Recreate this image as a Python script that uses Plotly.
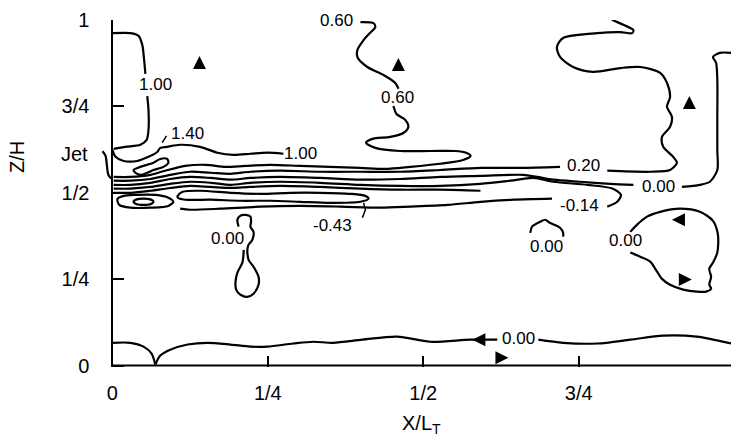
import plotly.graph_objects as go

# ---- axis ticks -------------------------------------------------------------
x_tick_vals = [0, 0.25, 0.5, 0.75]
x_tick_text = ["0", "1/4", "1/2", "3/4"]
y_tick_vals = [0, 0.25, 0.5, 0.75, 1.0]
y_tick_text = ["0", "1/4", "1/2", "3/4", "1"]
jet_z = 0.613

# ---- contour polylines (X/L_T, Z/H) ----------------------------------------
# 1.00 contour along the wall above the jet (broken around its label)
wall100_a_x = [0.000, 0.029, 0.042, 0.048, 0.051, 0.053]
wall100_a_y = [0.962, 0.962, 0.954, 0.928, 0.884, 0.844]
wall100_b_x = [0.056, 0.058, 0.058, 0.055, 0.045, 0.021, 0.002]
wall100_b_y = [0.780, 0.740, 0.682, 0.653, 0.639, 0.633, 0.627]

# small bend just outside the wall at jet height
inlet_x = [-0.016, -0.011, -0.009, -0.007, -0.004, 0.000]
inlet_y = [0.620, 0.607, 0.581, 0.555, 0.545, 0.540]

# 1.00 contour along the upper edge of the jet
jet100_x = [0.000, 0.005, 0.018, 0.040, 0.058, 0.072, 0.077, 0.088, 0.109, 0.141,
            0.169, 0.195, 0.222, 0.249, 0.275]
jet100_y = [0.624, 0.604, 0.592, 0.592, 0.604, 0.618, 0.630, 0.633, 0.639, 0.633,
            0.616, 0.610, 0.613, 0.616, 0.613]

# 1.40 closed contour in the jet core
core140_x = [0.034, 0.045, 0.066, 0.077, 0.088, 0.090, 0.082, 0.066, 0.056, 0.045, 0.037, 0.034]
core140_y = [0.566, 0.575, 0.587, 0.598, 0.598, 0.587, 0.575, 0.566, 0.558, 0.552, 0.558, 0.566]

# 0.60 contour: from the top down to a loop along the jet, then back to the inlet
c060_a_x = [0.399, 0.420, 0.423, 0.413, 0.404, 0.394, 0.394, 0.410, 0.436, 0.455, 0.460]
c060_a_y = [0.994, 0.991, 0.980, 0.960, 0.942, 0.913, 0.893, 0.864, 0.841, 0.818, 0.801]
c060_b_x = [0.452, 0.457, 0.471, 0.476, 0.468, 0.447, 0.418, 0.408, 0.423, 0.463, 0.511,
            0.551, 0.569, 0.576, 0.564, 0.527, 0.479, 0.439, 0.399, 0.350, 0.302, 0.254,
            0.214, 0.182, 0.150, 0.117, 0.085, 0.061, 0.029, 0.002]
c060_b_y = [0.751, 0.728, 0.711, 0.691, 0.673, 0.662, 0.656, 0.645, 0.630, 0.621, 0.621,
            0.621, 0.616, 0.607, 0.595, 0.584, 0.575, 0.569, 0.572, 0.575, 0.578, 0.581,
            0.578, 0.575, 0.581, 0.578, 0.564, 0.552, 0.546, 0.546]

# 0.20 contour: along the jet, then up the right side to the top
c020_a_x = [0.002, 0.029, 0.061, 0.093, 0.125, 0.158, 0.190, 0.222, 0.270, 0.334, 0.399,
            0.463, 0.527, 0.592, 0.656, 0.720]
c020_a_y = [0.535, 0.535, 0.540, 0.552, 0.561, 0.558, 0.555, 0.561, 0.564, 0.561, 0.561,
            0.561, 0.566, 0.572, 0.572, 0.575]
c020_b_x = [0.796, 0.865, 0.897, 0.908, 0.902, 0.886, 0.884, 0.897, 0.900, 0.892, 0.897,
            0.892, 0.881, 0.849, 0.817, 0.773, 0.741, 0.720, 0.715, 0.725, 0.780, 0.817,
            0.836, 0.838, 0.822, 0.805, 0.801]
c020_b_y = [0.564, 0.561, 0.566, 0.587, 0.604, 0.633, 0.662, 0.691, 0.720, 0.749, 0.777,
            0.818, 0.847, 0.864, 0.861, 0.850, 0.864, 0.893, 0.922, 0.948, 0.962, 0.965,
            0.962, 0.971, 0.986, 1.000, 1.006]

# 0.00 contour along the jet, rising along the far right
c000_a_x = [0.002, 0.029, 0.061, 0.093, 0.125, 0.158, 0.190, 0.222, 0.270, 0.334, 0.399,
            0.463, 0.527, 0.592, 0.661, 0.683, 0.709, 0.752, 0.801, 0.838]
c000_a_y = [0.523, 0.523, 0.529, 0.540, 0.546, 0.543, 0.538, 0.543, 0.546, 0.543, 0.538,
            0.540, 0.546, 0.549, 0.552, 0.546, 0.538, 0.532, 0.526, 0.523]
c000_b_x = [0.916, 0.945, 0.961, 0.973, 0.973, 0.973, 0.973, 0.971, 0.966, 0.977, 0.995]
c000_b_y = [0.517, 0.523, 0.532, 0.566, 0.624, 0.720, 0.827, 0.876, 0.893, 0.905, 0.905]

# -0.14 contour: upper branch out to the tip, lower branch back toward the inlet
cm014_a_x = [0.002, 0.029, 0.061, 0.093, 0.125, 0.158, 0.190, 0.222, 0.270, 0.334, 0.399,
             0.463, 0.527, 0.592, 0.640, 0.677, 0.709, 0.764, 0.805, 0.818, 0.812, 0.796]
cm014_a_y = [0.512, 0.512, 0.517, 0.526, 0.532, 0.529, 0.523, 0.529, 0.532, 0.529, 0.523,
             0.520, 0.520, 0.526, 0.535, 0.543, 0.532, 0.523, 0.512, 0.494, 0.474, 0.460]
cm014_b_x = [0.707, 0.645, 0.592, 0.539, 0.479, 0.431, 0.367, 0.302, 0.238, 0.174, 0.125, 0.109]
cm014_b_y = [0.483, 0.480, 0.474, 0.465, 0.460, 0.457, 0.460, 0.462, 0.460, 0.454, 0.451, 0.454]

# intermediate contour between -0.14 and -0.43
cm029_x = [0.002, 0.029, 0.061, 0.093, 0.125, 0.158, 0.190, 0.222, 0.270, 0.334, 0.399,
           0.463, 0.527, 0.592]
cm029_y = [0.500, 0.500, 0.506, 0.514, 0.520, 0.517, 0.514, 0.517, 0.520, 0.517, 0.512,
           0.509, 0.509, 0.506]

# -0.43 closed contour below the jet axis
cm043_x = [0.105, 0.113, 0.141, 0.190, 0.238, 0.286, 0.334, 0.383, 0.407, 0.412, 0.399,
           0.350, 0.302, 0.254, 0.206, 0.158, 0.117, 0.105, 0.105]
cm043_y = [0.491, 0.503, 0.506, 0.500, 0.497, 0.500, 0.500, 0.497, 0.491, 0.483, 0.474,
           0.471, 0.474, 0.477, 0.477, 0.480, 0.480, 0.486, 0.491]

# closed contours just under the inlet
low_outer_x = [0.008, 0.018, 0.037, 0.069, 0.090, 0.098, 0.090, 0.061, 0.029, 0.011, 0.008]
low_outer_y = [0.482, 0.491, 0.494, 0.494, 0.486, 0.474, 0.462, 0.457, 0.457, 0.465, 0.482]
low_inner_x = [0.034, 0.039, 0.050, 0.061, 0.066, 0.061, 0.050, 0.039, 0.034]
low_inner_y = [0.474, 0.481, 0.483, 0.481, 0.474, 0.467, 0.465, 0.467, 0.474]

# 0.00 contour: narrow-necked region below the jet
neck000_x = [0.203, 0.201, 0.206, 0.214, 0.222, 0.223, 0.222, 0.227, 0.225, 0.219, 0.217,
             0.217, 0.219, 0.227, 0.235, 0.235, 0.227, 0.217, 0.206, 0.199, 0.198, 0.201,
             0.209, 0.211, 0.211]
neck000_y = [0.402, 0.422, 0.434, 0.436, 0.431, 0.416, 0.402, 0.387, 0.364, 0.350, 0.335,
             0.327, 0.306, 0.286, 0.257, 0.234, 0.208, 0.199, 0.205, 0.220, 0.243, 0.269,
             0.298, 0.327, 0.335]

# 0.00 contour: small arch under the jet end
arch000_x = [0.672, 0.675, 0.688, 0.696, 0.704, 0.720, 0.725, 0.725]
arch000_y = [0.384, 0.402, 0.416, 0.422, 0.413, 0.399, 0.384, 0.373]

# 0.00 contour: recirculation cell on the right
cell000_x = [0.833, 0.844, 0.860, 0.881, 0.913, 0.945, 0.966, 0.974, 0.973, 0.966, 0.960,
             0.963, 0.960, 0.963, 0.955, 0.940, 0.918, 0.897, 0.884, 0.875, 0.865, 0.849, 0.833]
cell000_y = [0.387, 0.408, 0.431, 0.445, 0.454, 0.445, 0.419, 0.379, 0.327, 0.298, 0.280,
             0.257, 0.234, 0.223, 0.214, 0.214, 0.220, 0.234, 0.251, 0.275, 0.301, 0.315, 0.327]

# 0.00 contour near the floor
floor_a_x = [0.000, 0.029, 0.050, 0.063, 0.069]
floor_a_y = [0.066, 0.066, 0.055, 0.035, 0.003]
floor_b_x = [0.069, 0.077, 0.093, 0.121, 0.153, 0.190, 0.222, 0.249, 0.291, 0.323, 0.355,
             0.402, 0.458, 0.511, 0.576, 0.619]
floor_b_y = [0.003, 0.029, 0.046, 0.061, 0.066, 0.061, 0.055, 0.055, 0.064, 0.069, 0.066,
             0.075, 0.084, 0.069, 0.075, 0.075]
floor_c_x = [0.685, 0.725, 0.780, 0.833, 0.886, 0.940, 0.995]
floor_c_y = [0.075, 0.066, 0.064, 0.075, 0.087, 0.084, 0.064]

# label leaders
lead140_x = [0.080, 0.087]
lead140_y = [0.645, 0.665]
lead043_x = [0.404, 0.407, 0.402]
lead043_y = [0.471, 0.451, 0.428]

# ---- contour value labels ---------------------------------------------------
label_text = ["1.00", "1.40", "1.00", "0.60", "0.60", "0.20", "0.20", "0.00",
              "-0.14", "-0.43", "0.00", "0.00", "0.00", "0.00"]
label_x = [0.069, 0.121, 0.302, 0.360, 0.458, 0.756, 0.757, 0.878,
           0.752, 0.354, 0.185, 0.699, 0.825, 0.653]
label_y = [0.812, 0.671, 0.613, 1.000, 0.775, 1.012, 0.578, 0.517,
           0.462, 0.405, 0.367, 0.344, 0.361, 0.078]

# ---- flow-direction arrowheads ---------------------------------------------
arrow_x = [0.140, 0.460, 0.928, 0.900, 0.932, 0.579, 0.637]
arrow_y = [0.896, 0.890, 0.780, 0.422, 0.249, 0.075, 0.023]
arrow_symbol = ["arrow-up", "arrow-up", "arrow-up", "arrow-left", "arrow-right",
                "arrow-left", "arrow-right"]

curves = [
    (wall100_a_x, wall100_a_y), (wall100_b_x, wall100_b_y), (inlet_x, inlet_y),
    (jet100_x, jet100_y), (core140_x, core140_y),
    (c060_a_x, c060_a_y), (c060_b_x, c060_b_y),
    (c020_a_x, c020_a_y), (c020_b_x, c020_b_y),
    (c000_a_x, c000_a_y), (c000_b_x, c000_b_y),
    (cm014_a_x, cm014_a_y), (cm014_b_x, cm014_b_y),
    (cm029_x, cm029_y), (cm043_x, cm043_y),
    (low_outer_x, low_outer_y), (low_inner_x, low_inner_y),
    (neck000_x, neck000_y), (arch000_x, arch000_y), (cell000_x, cell000_y),
    (floor_a_x, floor_a_y), (floor_b_x, floor_b_y), (floor_c_x, floor_c_y),
]
leaders = [(lead140_x, lead140_y), (lead043_x, lead043_y)]

FONT = "Arial, 'Liberation Sans', Helvetica, sans-serif"

fig = go.Figure()
for cx, cy in curves:
    fig.add_trace(go.Scatter(
        x=cx, y=cy, mode="lines", hoverinfo="skip",
        line=dict(color="black", width=2.2, shape="spline", smoothing=0.8),
    ))
for lx, ly in leaders:
    fig.add_trace(go.Scatter(x=lx, y=ly, mode="lines", hoverinfo="skip",
                             line=dict(color="black", width=1.5)))

fig.add_trace(go.Scatter(
    x=arrow_x, y=arrow_y, mode="markers", hoverinfo="skip", cliponaxis=False,
    marker=dict(symbol=arrow_symbol, size=13, color="black", line=dict(width=0)),
))

annotations = [
    dict(x=lx, y=ly, xref="x", yref="y", text=t, showarrow=False,
         font=dict(family=FONT, size=17, color="black"))
    for t, lx, ly in zip(label_text, label_x, label_y)
]
annotations += [
    dict(x=-0.0158, y=jet_z, xref="paper", yref="y", text="Jet", showarrow=False,
         xanchor="right", yanchor="middle", font=dict(family=FONT, size=20, color="black")),
    dict(x=0.509, y=-0.167, xref="paper", yref="paper", text="X/L<sub>T</sub>",
         xanchor="center", yanchor="middle",
         showarrow=False, font=dict(family=FONT, size=20, color="black")),
    dict(x=-0.1315, y=0.605, xref="paper", yref="paper", text="Z/H", textangle=-90,
         xanchor="center", yanchor="middle",
         showarrow=False, font=dict(family=FONT, size=20, color="black")),
]

fig.update_layout(
    width=731, height=437,
    margin=dict(l=100, r=0, t=20, b=70),
    paper_bgcolor="white", plot_bgcolor="white",
    showlegend=False,
    font=dict(family=FONT, size=20, color="black"),
    xaxis=dict(range=[-0.02, 0.995], tickvals=x_tick_vals, ticktext=x_tick_text,
               ticks="inside", ticklen=11, tickwidth=1.5, tickcolor="black",
               showline=False, showgrid=False, zeroline=False,
               ticklabelstandoff=12, fixedrange=True),
    yaxis=dict(range=[-0.004, 1.0], tickvals=y_tick_vals, ticktext=y_tick_text,
               anchor="free", position=0.0197,
               ticks="inside", ticklen=11, tickwidth=1.5, tickcolor="black",
               showline=True, linecolor="black", linewidth=2,
               showgrid=False, zeroline=False, ticklabelstandoff=18, fixedrange=True),
    shapes=[
        dict(type="line", xref="x", yref="y", x0=0, x1=0.995, y0=0, y1=0,
             line=dict(color="black", width=2)),
    ],
    annotations=annotations,
)

fig.write_html("out.html")
